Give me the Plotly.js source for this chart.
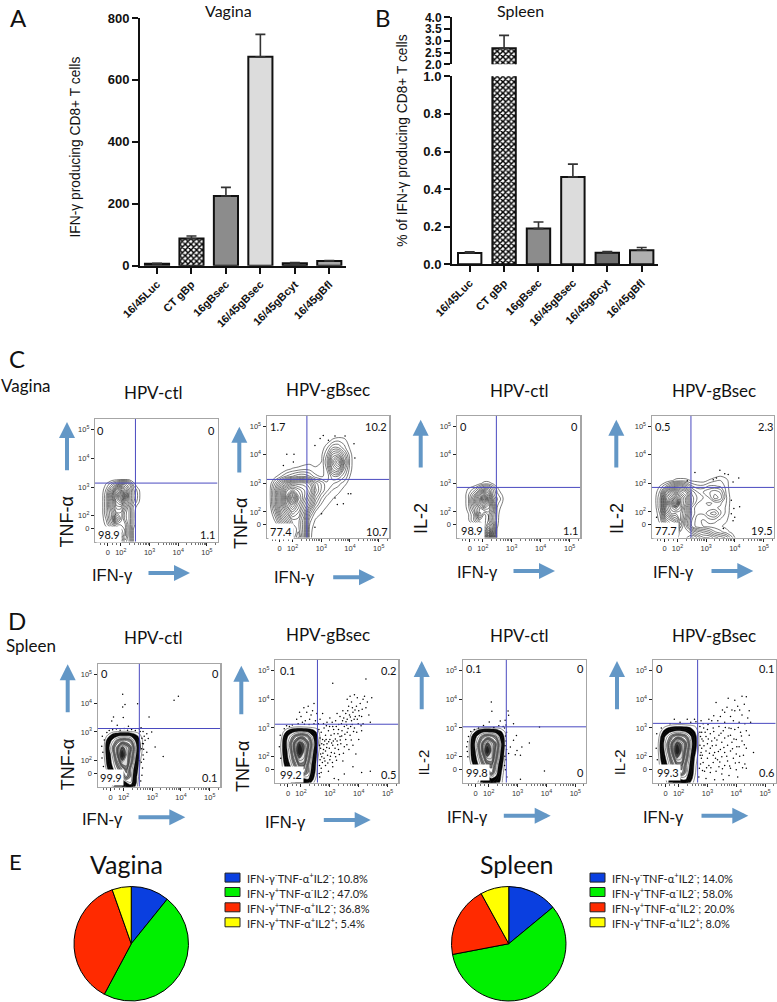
<!DOCTYPE html>
<html><head><meta charset="utf-8">
<script src="https://cdn.plot.ly/plotly-3.0.1.min.js"></script>
<style>html,body{margin:0;padding:0;background:#fff;overflow:hidden}#g{width:777px;height:1002px}</style>
</head><body><div id="g"></div>
<script>
const W=777,H=1002;
const categories=['16/45Luc','CT gBp','16gBsec','16/45gBsec','16/45gBcyt','16/45gBfl'];
const vaginaBar=[6,88,225,675,8,15];
const vaginaErr=[2,8,28,72,2,2];
const spleenBar=[0.06,2.68,0.19,0.465,0.062,0.075];
const spleenErr=[0.007,0.55,0.035,0.068,0.006,0.014];
const barColorsA=['#ffffff','#ffffff','#8c8c8c','#dcdcdc','#666666','#a8a8a8'];
const barColorsB=['#ffffff','#ffffff','#8c8c8c','#dcdcdc','#707070','#b0b0b0'];
const flowTickVals=[1.55,2,3,4,5];
const flowTickText=['0','10<sup>2</sup>','10<sup>3</sup>','10<sup>4</sup>','10<sup>5</sup>'];
const flowMinor=[1.3,1.42,1.7,1.85,2.3,2.48,2.6,2.7,2.78,2.85,2.9,2.95,3.3,3.48,3.6,3.7,3.78,3.85,3.9,3.95,4.3,4.48,4.6,4.7,4.78,4.85,4.9,4.95,5.3];

// contour densities
const c1X=[1.3,1.5,1.7,1.85,2.0,2.15,2.3,2.45,2.6,2.75];
const c1Y=[1.1,1.3,1.5,1.7,1.9,2.1,2.3,2.5,2.7,2.9,3.1,3.3];
const c1Z=[[0,0,0,0,2,4,3,.5,0,0],[0,0,0,.5,3,5,3,.5,0,0],[0,.3,1,3,4,5,3,.5,0,0],[0,1,3,5,5,5,3,1,0,0],[0,1.5,4,8,6,4,3,1,0,0],[0,2,4,6,6,4,3,1,0,0],[0,2,5,7,7,5,3,1.1,.3,0],[0,2,5,8,9,6,4,2,1,0],[0,2,6,9,12,8,4,2.2,1.2,0],[0,1.5,4,7,8,6,4,2,1,0],[0,.8,2,3,4,4,3,1,0,0],[0,0,0,0,0,0,0,0,0,0]];
const c2X=[1.2,1.4,1.6,1.8,2,2.2,2.4,2.6,2.8,3,3.2,3.4,3.6,3.8,4,4.2];
const c2Y=[1.1,1.4,1.7,2,2.25,2.5,2.75,3,3.25,3.5,3.75,4,4.25,4.5,4.75];
const c2Z=[[0,0,0,1,6,8,5,1,0,0,0,0,0,0,0,0],[0,0,1,3,6,7,5,1,.3,0,0,0,0,0,0,0],[0,.8,3,5,7,7,5,1.5,.6,.2,0,0,0,0,0,0],[0,2,5,7,9,8,6,3,1.2,.8,.3,0,0,0,0,0],[.3,3,6,9,11,9,7,5,2.5,1.2,.8,.3,0,0,0,0],[.5,3,6,10,14,10,8,6,3.5,2,1,.8,.3,0,0,0],[.5,3,6,9,10,9,8,7,4.5,3,2,1.2,1,.3,0,0],[.2,2,4,6,7,7,7,6,4,3,2,2,1.5,1,.3,0],[0,.5,1.2,2,2.5,3,3,2.5,1.5,1.2,1.5,3,3,2,.7,0],[0,0,0,.5,.8,1,1.2,1.1,.8,.8,2,5,6,3,1,0],[0,0,0,0,0,0,.3,.5,.5,.7,2.5,6,8,4,1.1,0],[0,0,0,0,0,0,0,0,0,.5,2,4.5,5,3,1,0],[0,0,0,0,0,0,0,0,0,.2,1.2,2.5,2.5,1.5,.6,0],[0,0,0,0,0,0,0,0,0,0,.3,.9,1.2,1,.2,0],[0,0,0,0,0,0,0,0,0,0,0,0,0,0,0,0]];
const c3X=[1.3,1.5,1.7,1.9,2.05,2.2,2.35,2.5,2.65,2.8];
const c3Y=[1.1,1.3,1.5,1.7,1.9,2.1,2.3,2.45,2.6,2.8,3.0,3.2];
const c3Z=[[0,0,0,2,6,10,5,.5,0,0],[0,0,0,2,5,8,4,.5,0,0],[0,0,.5,2,4,6,4,.8,0,0],[0,.5,2,4,4,5,3,1,0,0],[0,.6,2,6,4,5,3,1.1,0,0],[0,1,3,5,6,6,4,1.2,.4,0],[0,1.2,4,7,9,7,4,1.5,.8,0],[0,1.2,4,7,11,7,4,2,1.1,0],[0,1.2,3,6,8,6,3,1.5,.8,0],[0,.8,1.5,3,4,4,2.5,1,0,0],[0,0,0,.5,1,1,.6,0,0,0],[0,0,0,0,0,0,0,0,0,0]];
const c4X=[1.2,1.4,1.6,1.8,1.95,2.1,2.3,2.5,2.7,2.9,3.1,3.3,3.5,3.7,3.9,4.1];
const c4Y=[1.1,1.3,1.5,1.7,1.95,2.15,2.3,2.5,2.7,2.9,3.1,3.3,3.5];
const c4Z=[[0,0,1,3,5,6,6,7,6,5,5,4,3.5,3,1.5,0],[0,0,1,3,4,6,6,5,4,3.5,3,2,1.5,1,.5,0],[0,.5,2,4,4,7,5,2.5,1.5,1.3,1.1,1,.8,.5,.2,0],[0,1,4,5,6,8,5,2.5,1.5,1.2,1.5,1.5,1.1,.8,.2,0],[0,1.5,6,8,8,8,6,3,2,2,3,3.5,2,1.1,.3,0],[.2,2,7,9,10,9,6,3,2,2,2,2,1.8,1.2,.3,0],[.3,2,7,11,14,9,7,4,2.5,2,1.8,2,2,1.3,.3,0],[.3,2,7,9,11,9,7,4,3,2.5,2.5,4,3.5,1.4,.3,0],[.2,1.5,5,7,8,7,6,3.5,2.5,2.5,3,3.5,3,1.2,.2,0],[0,.8,2,3.5,4.5,4.5,3.5,2,1.5,1.5,2,2,1.8,1.1,.1,0],[0,0,.2,.6,1,1.1,1,.6,.5,.4,.8,1.2,1.3,1,0,0],[0,0,0,0,0,0,0,0,0,0,0,.2,.5,.2,0,0],[0,0,0,0,0,0,0,0,0,0,0,0,0,0,0,0]];
const dX=[1.2,1.35,1.5,1.65,1.8,1.95,2.1,2.25,2.4,2.55,2.7,2.85];
const dY=[1.1,1.25,1.45,1.7,1.95,2.2,2.45,2.7,2.85,3.0,3.15];
const d1Z=[[0,0,0,1.5,2,2,2.5,2.5,1.5,.5,0,0],[0,0,0,1,2,2,3,3.5,2,.5,0,0],[0,0,1,2,3,4,5,4,2,.8,0,0],[0,.5,2,3,4,5,6,4,2.5,1,0,0],[0,1,2.5,3.5,5,7,7,5,3,1.2,.3,0],[0,1.2,2.5,4,6,9.5,7,5.5,3.5,1.5,.5,0],[0,1.2,3,4.5,6,8,7,6,3.8,1.8,.7,0],[0,1,2.5,3.5,4.5,5,5,4.5,3,1.6,.8,0],[0,.7,1.5,2.5,3,3.2,3.2,3,2,1.3,.6,0],[0,.1,.6,1,1.1,1.2,1.2,1.1,1,.8,.2,0],[0,0,0,0,0,0,0,0,0,0,0,0]];
const d2Z=[[0,0,.5,1.5,2,2.5,2.5,2,1.2,.5,0,0],[0,.3,1,1.5,2,2.5,3,3.2,1.8,.7,0,0],[0,.8,1.5,2.2,3,4.5,5,4,2.2,1,0,0],[0,1,2,3.2,4.5,6,6,4.2,2.6,1.1,0,0],[0,1.2,2.6,3.8,5.5,7.5,7,5,3,1.3,.2,0],[.2,1.4,2.8,4.2,6.5,9.8,7.5,5.6,3.4,1.6,.4,0],[.2,1.4,3,4.6,6.5,8.5,7.5,6,3.9,1.9,.6,0],[0,1.1,2.7,3.7,4.8,5.4,5.4,4.6,3.2,1.7,.7,0],[0,.8,1.7,2.7,3.2,3.5,3.4,3.1,2.2,1.4,.6,0],[0,.2,.8,1.1,1.3,1.4,1.3,1.2,1.1,.9,.2,0],[0,0,0,0,0,0,0,0,0,0,0,0]];
const d3Z=[[0,0,0,1.2,2,2.5,2.5,2,1.4,.5,0,0],[0,0,.2,1,2,2.2,3,2.6,1.6,.5,0,0],[0,.3,1,1.8,3,4.2,5,3.6,1.8,.7,0,0],[0,.7,1.8,3,4.2,5.5,5.8,4,2.2,.9,0,0],[0,1.1,2.4,3.6,5.2,7,7,4.8,2.8,1.1,.1,0],[0,1.2,2.6,4.2,6.2,9.5,7.2,5.4,3.2,1.3,.3,0],[0,1.2,2.8,4.4,6.2,8,7,5.8,3.5,1.5,.4,0],[0,.9,2.4,3.5,4.6,5.2,5,4.3,2.7,1.3,.4,0],[0,.6,1.4,2.4,3,3.2,3,2.7,1.8,1.1,.3,0],[0,.1,.5,.9,1.1,1.1,1.1,1,.9,.6,.1,0],[0,0,0,0,0,0,0,0,0,0,0,0]];
const d4Y=[1.1,1.25,1.45,1.7,1.95,2.2,2.45,2.7,2.85,3.05,3.25];
const d4Z=[[0,0,.2,1.5,2,2.2,2.5,2.5,1.5,.8,.2,0],[0,.2,.8,1.5,2,2.4,3.2,3.2,2,1,.3,0],[0,.8,1.6,2.2,3.2,4.5,5.2,4,2.4,1.2,.4,0],[0,1.1,2,3.3,4.5,5.8,6,4.2,2.8,1.3,.5,0],[.1,1.3,2.6,3.8,5.4,7.4,7,5,3.1,1.5,.7,0],[.2,1.5,3,4.4,6.4,9.6,7.4,5.6,3.5,1.8,.9,0],[.2,1.5,3.2,4.6,6.4,8.4,7.4,6,3.9,2,1,0],[.1,1.2,2.8,3.8,4.8,5.4,5.2,4.6,3.3,1.9,1,0],[0,.9,1.9,2.8,3.3,3.5,3.4,3.1,2.4,1.6,.9,0],[0,.3,.9,1.2,1.4,1.5,1.5,1.4,1.3,1.1,.6,0],[0,0,0,0,0,0,0,0,0,0,0,0]];

// individual events (x,y in decades)
const c2Dots=[[3.07,4.68],[3.48,4.66],[3.83,4.66],[2.96,4.57],[3.25,4.51],[4.14,4.39],[2.78,4.33],[1.8,4.02],[2.05,4.02],[1.68,3.63],[2.03,3.75],[4.17,3.89],[3.94,2.64],[4.03,2.64],[3.56,2.26],[3.77,2.29],[3.48,2.49],[3.01,1.94],[2.78,1.47]];
const c4Dots=[[2.61,3.38],[2.34,3.09],[3.48,3.46],[3.77,3.31],[3.65,3.34],[3.25,3.13],[3.36,3.19],[4.14,3.19],[3.94,3.05],[3.88,2.41],[4.17,2.18],[3.97,2.12],[3.88,1.94],[4,1.82],[3.94,1.69],[1.27,1.82],[3.6,1.42]];
const d1Dots=[[1.97,4.31],[2.05,3.95],[1.97,3.87],[2.49,3.98],[1.65,3.52],[1.59,3.38],[1.99,3.5],[1.78,3.23],[2.17,3.2],[2.89,3.52],[3.76,4.1],[3.91,4.24],[2.98,3],[2.81,2.94],[3.1,2.48],[3.38,2.15],[2.69,2.59],[2.63,2.42],[2.81,2.3],[2.75,2.71],[2.86,2.77],[2.55,2],[1.5,3.05],[1.62,3.08],[1.75,3.1],[1.88,3.06],[2.02,3.12],[2.14,3.06],[2.28,3.09],[2.41,3.05],[2.55,3.1],[2.68,3.02],[2.72,2.85],[2.7,2.4],[2.7,2.05],[2.66,1.75],[2.64,1.5],[1.26,2.85],[1.24,2.5],[1.25,2.1],[1.3,1.8],[2.61,3.15],[1.42,2.98],[1.33,2.72],[1.28,2.3],[2.58,3.02],[2.64,2.78],[2.66,2.6],[2.68,2.2],[2.62,1.95],[2.6,1.3]];
const d2Dots=[[2.65,1.3],[2.7,1.6],[2.72,2],[2.68,2.3],[2.75,2.6],[2.7,2.85],[2.8,3],[2.66,3.3],[2.75,3.5],[2.8,1.95],[2.85,2.2],[2.9,2.45],[2.85,2.75],[2.95,2.9],[2.9,3.2],[3,3.35],[2.85,1.7],[2.95,1.5],[3,1.9],[3.05,2.15],[3.1,2.4],[3,2.6],[3.15,2.8],[3.1,3.05],[3.2,3.25],[3.25,3.5],[3.15,1.25],[3.1,1.65],[3.2,2],[3.3,2.25],[3.25,2.55],[3.35,2.7],[3.3,2.95],[3.4,3.15],[3.35,3.4],[3.45,3.6],[3.5,1.4],[3.45,1.85],[3.5,2.35],[3.55,2.6],[3.6,2.85],[3.5,3.05],[3.6,3.3],[3.55,3.5],[3.65,3.75],[3.7,4.1],[3.6,4],[3.75,3.9],[3.8,3.55],[3.75,3.25],[3.85,3],[3.7,2.75],[3.8,2.4],[3.9,2.1],[3.95,3.3],[4,3.6],[4.05,3.85],[3.95,4.05],[3.85,4.15],[4.1,3.4],[4.15,3.15],[4.1,2.9],[4,2.6],[4.2,4.1],[4.15,4],[4.3,3.9],[4.25,3.7],[4.45,4.05],[4.35,3.45],[4.4,3.2],[4.25,4.7],[3.1,4.55],[3.3,1.2],[3.8,1.65],[4.1,1.45],[4.4,1.5],[2.68,2.1],[2.72,2.45],[2.78,2.25],[2.74,1.8],[2.82,2.55],[2.88,3.08],[2.78,3.15],[2.92,2.05],[2.98,2.3],[3.04,2.75],[3.08,3.2],[3.12,2.55],[3.18,2.3],[3.22,3.05],[3.28,2.8],[3.38,2.45],[3.42,2.9],[3.48,3.35],[3.58,3.1],[3.62,3.6],[3.68,3.45],[3.72,3.05],[3.78,3.7],[3.88,3.4],[3.92,3.75],[2,3.4],[2.1,3.7],[2.2,3.55],[2.3,3.3],[2.4,3.6],[2.45,3.85],[2.5,3.25],[1.85,3.3],[1.95,3.55],[2.15,3.25],[2.25,3.75],[2.35,3.45],[2.55,3.5],[1.9,3.15],[2.05,3.2],[2.6,3.15],[1.5,3.08],[1.7,3.1],[2.66,2.65],[2.66,1.9],[2.7,1.45],[2.76,2.12],[2.79,2.42],[2.83,1.85],[2.87,2.6],[2.89,2.32],[2.93,1.78],[2.96,2.52],[2.99,3.05],[3.02,2.02],[3.06,2.48],[3.09,1.8],[3.13,2.95],[3.16,2.12],[3.19,2.62],[3.23,1.88],[3.27,2.42],[3.31,3.12],[3.33,2.08],[3.36,2.58],[3.41,2.72],[3.44,3.25],[3.47,2.12],[3.52,2.78],[3.56,3.22],[3.59,2.42],[3.63,2.98],[3.66,2.25],[3.71,3.38],[3.74,2.58],[3.77,3.12],[3.82,2.88],[3.84,3.3],[3.87,3.62],[3.93,2.85],[3.98,3.15],[4.02,3.42],[4.08,3.08],[4.12,3.65],[2.45,3.15],[2.28,3.12],[2.12,3.13],[2.62,2.95],[2.64,2.4],[2.64,1.7],[2.63,1.42],[1.28,2.75],[1.25,2.35],[1.3,1.95],[1.42,2.97],[1.6,3.05]];
const d3Dots=[[2.09,3.9],[2.11,3.58],[2.67,3.59],[2.69,3.44],[2.86,3.15],[2.57,3.27],[2.4,3.24],[2.02,3.21],[1.82,3.09],[2.96,2.74],[3.41,2.48],[3.15,2.34],[2.86,2.57],[2.75,2.34],[2.98,2.22],[2.69,2.11],[3.1,2.05],[2.92,2.07],[3.76,3.03],[3.93,1.51],[3.1,1.22],[2.6,3.1],[2.5,3.05],[2.35,3.08],[2.18,3.02],[2.62,2.85],[2.6,2.55],[2.62,2.25],[2.6,1.9],[2.58,1.55],[2.63,1.3],[1.5,2.95],[1.3,2.7],[1.24,2.35],[1.28,2],[1.4,1.7],[2.55,3],[2.58,2.72],[2.57,2.38],[2.56,2.02],[2.55,1.7],[1.38,2.88],[1.27,2.52],[1.26,2.18],[1.65,3]];
const d4Dots=[[3.72,4.03],[3.95,3.96],[4.2,4.1],[4.35,4.08],[3.3,3.88],[3.95,3.6],[4.05,3.75],[4.45,3.6],[3.6,3.55],[3.8,3.4],[4.2,3.45],[4.4,3.35],[3.05,3.3],[3.15,3.25],[3.45,3.4],[3.6,3.2],[3.9,3.25],[4.1,3.2],[4.3,3.15],[4.5,3.2],[2.85,3.15],[3,2.95],[3.2,3],[3.4,3.05],[3.55,2.9],[3.75,3],[3.95,2.95],[4.15,2.85],[4.35,2.9],[4.45,2.75],[2.8,2.85],[2.95,2.7],[3.1,2.8],[3.25,2.65],[3.4,2.75],[3.6,2.65],[3.8,2.75],[4,2.6],[4.2,2.55],[2.85,2.55],[3,2.45],[3.15,2.55],[3.3,2.4],[3.5,2.5],[3.7,2.4],[3.85,2.5],[4.1,2.35],[4.35,2.3],[2.8,2.3],[2.95,2.2],[3.1,2.3],[3.25,2.15],[3.45,2.25],[3.6,2.15],[3.8,2.2],[4,2.1],[4.25,2.05],[4.6,2.15],[2.82,2.05],[3,1.95],[3.2,2.05],[3.35,1.9],[3.5,2],[3.7,1.85],[3.9,1.95],[4.1,1.8],[4.3,1.75],[2.85,1.8],[3.05,1.7],[3.2,1.8],[3.4,1.65],[3.6,1.7],[3.8,1.6],[4,1.55],[4.35,1.6],[2.9,1.5],[3.1,1.45],[3.3,1.5],[3.5,1.4],[3.75,1.35],[4.05,1.3],[2.95,1.25],[3.25,1.2],[3.55,1.2],[2.78,3.25],[2.55,3.3],[2.3,3.3],[1.85,3.3],[2.6,3.22],[2.74,3.05],[2.76,2.7],[2.74,2.4],[2.75,2.05],[2.72,1.6],[2.7,1.3],[1.24,2.8],[1.22,2.3],[1.26,1.9],[1.4,3],[1.7,3.15],[2.05,3.2],[2.42,3.2],[2.88,2.38],[2.92,2.85],[2.97,1.62],[3.03,2.62],[3.07,2.12],[3.12,1.62],[3.17,2.38],[3.22,2.88],[3.28,1.95],[3.33,2.58],[3.38,2.18],[3.43,1.82],[3.47,2.82],[3.52,1.58],[3.57,2.32],[3.62,3.02],[3.67,2.02],[3.72,2.72],[3.77,1.68],[3.82,2.98],[3.87,2.28],[3.92,2.62],[3.97,1.78],[4.02,2.35],[4.07,3.02],[4.12,2.02],[4.18,2.72],[4.22,1.62],[4.28,2.42],[2.81,2.62],[2.79,1.95],[2.83,1.52],[2.87,3],[3.02,3.12],[3.22,3.42],[3.36,3.25],[3.52,3.62],[3.68,3.72],[3.85,3.62],[4.12,3.62],[4.28,3.82],[2.78,2.15],[2.76,1.75],[2.74,2.85]];

const pieLabels=['IFN-γ<sup>-</sup>TNF-α<sup>+</sup>IL2<sup>-</sup>','IFN-γ<sup>+</sup>TNF-α<sup>-</sup>IL2<sup>-</sup>','IFN-γ<sup>+</sup>TNF-α<sup>+</sup>IL2<sup>-</sup>','IFN-γ<sup>+</sup>TNF-α<sup>+</sup>IL2<sup>+</sup>'];
const vaginaPie=[10.8,47.0,36.8,5.4];
const spleenPie=[14.0,58.0,20.0,8.0];
const pieColors=['#0a3fe0','#00f000','#ff2a00','#ffff00'];

const fx=p=>p/W, fy=p=>1-p/H;
const dx=(a,b)=>[a/W,b/W], dy=(t,b)=>[1-b/H,1-t/H];
const SANS='"Liberation Sans",Arial,sans-serif', LATO='Lato,sans-serif';
const layout={width:W,height:H,margin:{l:0,r:0,t:0,b:0},paper_bgcolor:'#fff',plot_bgcolor:'rgba(0,0,0,0)',showlegend:false,barmode:'overlay',shapes:[],annotations:[]};
const traces=[];
function txt(text,x,y,size,family,opt){layout.annotations.push(Object.assign({text,x:fx(x),y:fy(y),xref:'paper',yref:'paper',showarrow:false,xanchor:'center',yanchor:'middle',font:{size,family,color:'#111'}},opt||{}));}
function arrow(x0,y0,x1,y1){layout.annotations.push({text:'',xref:'paper',yref:'paper',axref:'paper',ayref:'paper',x:fx(x1),y:fy(y1),ax:fx(x0),ay:fy(y0),showarrow:true,arrowhead:2,arrowsize:.8,arrowwidth:4,arrowcolor:'#6397c6'});}
const barX=(domain,range,anchor,visible)=>({domain,range,anchor,type:'category',categoryorder:'array',categoryarray:categories,visible,showline:true,linewidth:2,linecolor:'#111',ticks:'outside',ticklen:6,tickwidth:2,tickcolor:'#111',tickangle:-45,tickfont:{family:SANS,size:11,weight:'bold',color:'#111'},showgrid:false,zeroline:false,fixedrange:true});
const barY=(domain,range,tickvals,ticktext,anchor,size)=>({domain,range,anchor,tickmode:'array',tickvals,ticktext,showline:true,linewidth:2,linecolor:'#111',ticks:'outside',ticklen:6,tickwidth:2,tickcolor:'#111',tickfont:{family:SANS,size:size||13,weight:'bold',color:'#111'},showgrid:false,zeroline:false,fixedrange:true});
function bars(y,err,colors,xa,ya,width){
  traces.push({type:'bar',x:categories,y:y.map((v,i)=>i==1?null:v),xaxis:xa,yaxis:ya,width,hoverinfo:'skip',
  marker:{color:colors,line:{color:'#111',width:2}},
  error_y:{type:'data',symmetric:false,array:err,arrayminus:err.map(()=>0),color:'#333',thickness:1.6,width:5}});
  // the checkered bar is its own trace
  traces.push({type:'bar',x:[categories[1]],y:[y[1]],xaxis:xa,yaxis:ya,width,hoverinfo:'skip',
  marker:{color:'#ffffff',line:{color:'#111',width:2},pattern:{shape:'x',size:4,solidity:.6,fgcolor:'#000000',bgcolor:'#ffffff',fillmode:'replace'}},
  error_y:{type:'data',symmetric:false,array:[err[1]],arrayminus:[0],color:'#333',thickness:1.6,width:5}});
}

// panel A
layout.xaxis=barX(dx(140,346),[-.494,5.485],'y',true);
layout.yaxis=barY(dy(18,265.7),[0,800],[0,200,400,600,800],['0','200','400','600','800'],'x');
bars(vaginaBar,vaginaErr,barColorsA,'x','y',.7);
// panel B
layout.xaxis2=barX(dx(452,658),[-.514,5.474],'y2',true);
layout.yaxis2=barY(dy(76.3,264.3),[0,1],[0,.2,.4,.6,.8,1],['0.0','0.2','0.4','0.6','0.8','1.0'],'x2');
layout.xaxis3=barX(dx(452,658),[-.514,5.474],'y3',false);
layout.yaxis3=barY(dy(17.3,64.3),[2,4],[2,2.5,3,3.5,4],['2.0','2.5','3.0','3.5','4.0'],'x3',12);
bars(spleenBar,spleenErr.map((e,i)=>i==1?0:e),barColorsB,'x2','y2',.68);
bars(spleenBar,spleenErr,barColorsB,'x3','y3',.68);

const flowFill=[[0,'rgba(0,0,0,0)'],[.1,'rgba(0,0,0,0)'],[.1,'#000'],[.25,'#000'],[.25,'#fff'],[.35,'#fff'],[.35,'#8a8a8a'],[.45,'#8a8a8a'],[.45,'#fff'],[.55,'#fff'],[.55,'#777'],[.65,'#777'],[.65,'#ddd'],[.75,'#ddd'],[.75,'#555'],[.85,'#555'],[.85,'#222'],[1,'#222']];
const panels=[
 {b:[95,217.5,419,541.7],g:[2.51,3.14],cx:c1X,cy:c1Y,z:c1Z,dots:[]},
 {b:[266.7,389.3,415.7,537.7],g:[2.5,3.14],cx:c2X,cy:c2Y,z:c2Z,dots:c2Dots},
 {b:[456.7,580.3,415.7,537.7],g:[2.47,2.86],cx:c3X,cy:c3Y,z:c3Z,dots:[]},
 {b:[651.7,774,415.7,537.7],g:[2.47,2.86],cx:c4X,cy:c4Y,z:c4Z,dots:c4Dots},
 {b:[97.7,220.3,663.7,786.7],g:[2.55,3.12],cx:dX,cy:dY,z:d1Z,dots:d1Dots,fill:1},
 {b:[275,398.3,659.7,782.7],g:[2.57,3.13],cx:dX,cy:dY,z:d2Z,dots:d2Dots,fill:1},
 {b:[462.7,586,659.7,782.7],g:[2.61,3.04],cx:dX,cy:dY,z:d3Z,dots:d3Dots,fill:1},
 {b:[652.7,775.7,659.7,782.7],g:[2.66,3.16],cx:dX,cy:d4Y,z:d4Z,dots:d4Dots,fill:1}];
panels.forEach((p,i)=>{
  const n=i+4,xa='x'+n,ya='y'+n;
  const common={range:[1.1,5.37],tickmode:'array',tickvals:flowTickVals,ticktext:flowTickText,showline:true,mirror:true,linecolor:'#a6a6a6',linewidth:1.2,ticks:'outside',ticklen:3,tickwidth:1,tickcolor:'#222',tickfont:{family:SANS,size:7.5,color:'#333'},showgrid:false,zeroline:false,fixedrange:true};
  layout['xaxis'+n]=Object.assign({},common,{domain:dx(p.b[0],p.b[1]),anchor:ya,minor:{tickmode:'array',tickvals:flowMinor,ticks:'outside',ticklen:2,tickwidth:.7,tickcolor:'#333',showgrid:false}});
  layout['yaxis'+n]=Object.assign({},common,{domain:dy(p.b[2],p.b[3]),anchor:xa});
  traces.push(p.fill?
   {type:'contour',x:p.cx,y:p.cy,z:p.z,xaxis:xa,yaxis:ya,showscale:false,hoverinfo:'skip',zauto:false,zmin:0,zmax:10,colorscale:flowFill,contours:{coloring:'fill',start:1,end:9.5,size:.5},line:{color:'#222',width:.5,smoothing:1}}:
   {type:'contour',x:p.cx,y:p.cy,z:p.z,xaxis:xa,yaxis:ya,showscale:false,hoverinfo:'skip',contours:{coloring:'none',start:.7,end:14,size:.6},line:{color:'#222',width:.6,smoothing:1}});
  if(p.dots.length) traces.push({type:'scatter',mode:'markers',x:p.dots.map(d=>d[0]),y:p.dots.map(d=>d[1]),xaxis:xa,yaxis:ya,hoverinfo:'skip',marker:{size:1.5,color:'#000'}});
  layout.shapes.push({type:'line',xref:xa,yref:ya,x0:p.g[0],x1:p.g[0],y0:1.1,y1:5.37,line:{color:'#4a4ac0',width:1}});
  layout.shapes.push({type:'line',xref:xa,yref:ya,x0:1.1,x1:5.37,y0:p.g[1],y1:p.g[1],line:{color:'#4a4ac0',width:1}});
});

// pies
const pieBase={type:'pie',sort:false,direction:'clockwise',rotation:0,textinfo:'none',hoverinfo:'skip',marker:{colors:pieColors,line:{color:'#000',width:1}}};
traces.push(Object.assign({},pieBase,{values:vaginaPie,labels:pieLabels,domain:{x:dx(73.5,189),y:dy(886.5,1001)}}));
traces.push(Object.assign({},pieBase,{values:spleenPie,labels:pieLabels,domain:{x:dx(451,566.5),y:dy(886.5,1001)}}));
// pie keys
const keyY=[877.6,892,907.3,922.3];
[[225,245,vaginaPie],[590,610,spleenPie]].forEach(k=>{
  pieLabels.forEach((l,i)=>{
    layout.shapes.push({type:'rect',xref:'paper',yref:'paper',x0:fx(k[0]),x1:fx(k[0]+15),y0:fy(keyY[i]-4.5),y1:fy(keyY[i]+4.5),fillcolor:pieColors[i],line:{color:'#222',width:1}});
    txt(l+'; '+k[2][i].toFixed(1)+'%',k[1],keyY[i],11,LATO,{xanchor:'left',font:{size:11,family:LATO,color:'#222'}});
  });
});

// text
[['A',18,17,24],['B',383,17,24],['C',17,358,24],['D',17,620,24],['E',15,861,22]].forEach(t=>txt(t[0],t[1],t[2],t[3],LATO));
txt('Vagina',228,10,16,LATO);txt('Spleen',520,10,16,LATO);
txt('IFN-γ producing CD8+ T cells',75,147.5,13.8,SANS,{textangle:-90});
txt('% of IFN-γ producing CD8+ T cells',401.7,141,13.8,SANS,{textangle:-90});
txt('Vagina',26,385.7,17,LATO);txt('Spleen',30.7,645.7,17,LATO);
[[153,392,'HPV-ctl'],[327.7,389.3,'HPV-gBsec'],[519.3,390,'HPV-ctl'],[714.3,390,'HPV-gBsec'],[153,637.7,'HPV-ctl'],[327.7,634.3,'HPV-gBsec'],[519.3,635,'HPV-ctl'],[714.3,635,'HPV-gBsec']].forEach(t=>txt(t[2],t[0],t[1],17,LATO));
[['TNF-α',66.7,521.7,18],['TNF-α',241.7,523.3,18],['IL-2',421.7,518.3,18],['IL-2',617.7,518.3,18],['TNF-α',68.3,765,18],['TNF-α',242.3,766.7,18],['IL-2',423.3,762.3,15],['IL-2',619,762.3,15]].forEach(t=>txt(t[0],t[1],t[2],t[3],SANS,{textangle:-90}));
[[112.3,575],[294.3,577.3],[477.7,572.3],[673,572.3],[102.3,819.3],[285,821.7],[467.7,816.7],[663,816.7]].forEach(t=>txt('IFN-γ',t[0],t[1],16.5,SANS));
[[67,471.7,67,422],[147,573,190,573],[239.3,474,239.3,426.7],[331.7,577.3,375,577.3],[420.7,469,420.7,419.7],[512,571,555,571],[616.3,469,616.3,419.7],[710,571,753.3,571],[67.7,713.7,67.7,664.3],[137,817.3,185.3,817.3],[241.3,715.7,241.3,665.7],[322.3,820,370.7,820],[421.7,710.7,421.7,661],[502.3,815.7,550.7,815.7],[617,710.7,617,661],[700,815.7,748.3,815.7]].forEach(a=>arrow(a[0],a[1],a[2],a[3]));
const quad=[['0',100.7,430],['0',212,430],['98.9',108.7,534.3,1],['1.1',207.3,534.3],['1.7',277.7,426.7],['10.2',376,426.7],['77.4',281,531,1],['10.7',376.7,531],['0',463.3,426],['0',574.7,426],['98.9',471.7,530.7,1],['1.1',570,530.7],['0.5',662.7,426],['2.3',765,426],['77.7',666,530.7,1],['19.5',761.7,530.7],['0',104,673.3],['0',215,673.3],['99.9',111,777.7,1],['0.1',209.3,777.7],['0.1',287.3,670],['0.2',389,670],['99.2',291,774.3,1],['0.5',389,774.3],['0.1',473.3,668.3],['0',580,668.3],['99.8',476.7,772.7,1],['0',580,772.7],['0',659.3,668.3],['0.1',766,668.3],['99.3',667.7,772.7,1],['0.6',766.7,772.7]];
quad.forEach(q=>txt(q[0],q[1],q[2],11,LATO,q[3]?{bgcolor:'#fff',borderpad:1}:{}));
txt('Vagina',126,864,25,LATO);txt('Spleen',517,864,25,LATO);

Plotly.newPlot('g',traces,layout,{staticPlot:true,displayModeBar:false});
</script></body></html>
